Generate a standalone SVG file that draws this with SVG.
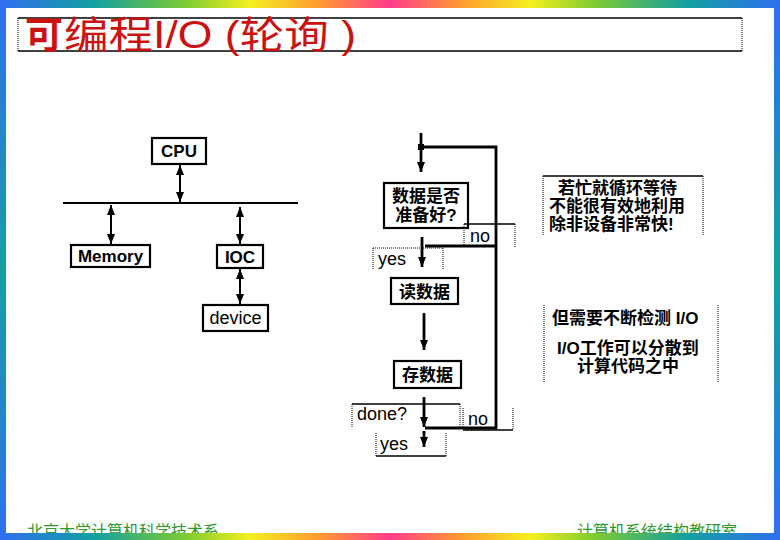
<svg xmlns="http://www.w3.org/2000/svg" width="780" height="540" viewBox="0 0 780 540">
<defs>
<linearGradient id="rbh" x1="0" y1="0" x2="1" y2="0">
<stop offset="0" stop-color="#2f6ff0"/><stop offset="0.12" stop-color="#14a0a0"/><stop offset="0.24" stop-color="#80cc30"/><stop offset="0.32" stop-color="#f4f020"/><stop offset="0.41" stop-color="#ff9a30"/><stop offset="0.5" stop-color="#ff3c8c"/><stop offset="0.59" stop-color="#ff9a30"/><stop offset="0.68" stop-color="#f4f020"/><stop offset="0.76" stop-color="#80cc30"/><stop offset="0.88" stop-color="#14a0a0"/><stop offset="1" stop-color="#2f6ff0"/>
</linearGradient>
<linearGradient id="rbv" x1="0" y1="0" x2="0" y2="1">
<stop offset="0" stop-color="#2f6ff0"/><stop offset="0.5" stop-color="#14a0a0"/><stop offset="1" stop-color="#2f6ff0"/>
</linearGradient>
<marker id="ah" viewBox="0 0 10 8" refX="10" refY="4" markerWidth="10" markerHeight="8" markerUnits="userSpaceOnUse" orient="auto-start-reverse">
<path d="M0,0 L10,4 L0,8 z" fill="#000"/>
</marker>
</defs>
<style>
.box{fill:#fff;stroke:#000;stroke-width:2.2}
.lbl{font-family:"Liberation Sans","Noto Sans CJK SC",sans-serif;font-size:17px;font-weight:bold;fill:#000}
.reg{font-family:"Liberation Sans","Noto Sans CJK SC",sans-serif;font-size:18px;fill:#000}
.cjk{font-family:"Liberation Sans","Noto Sans CJK SC",sans-serif;font-size:17px;font-weight:bold;fill:#000}
.ln{stroke:#000;stroke-width:2;fill:none}
.fl{stroke:#000;stroke-width:2.8;fill:none}
.dot{stroke:#000;stroke-width:1;stroke-dasharray:1 1;fill:none}
.sol{stroke:#000;stroke-width:1.5;fill:none}
.foot{font-family:"Liberation Sans","Noto Sans CJK SC",sans-serif;font-size:16px;fill:#2a9a2a}
</style>
<rect x="0" y="0" width="780" height="540" fill="#fff"/>

<g id="title">
<line class="sol" x1="18" y1="18" x2="742" y2="18"/>
<line class="sol" x1="18" y1="51" x2="742" y2="51"/>
<line class="dot" x1="18" y1="18" x2="18" y2="51"/>
<line class="dot" x1="742" y1="18" x2="742" y2="51"/>
<text x="25" y="48" font-family="Liberation Sans,Noto Sans CJK SC,sans-serif" font-size="38" font-weight="bold" fill="#cc1111">可</text>
<text x="64" y="48" font-family="Liberation Sans,Noto Sans CJK SC,sans-serif" font-size="38" fill="#cc1111" textLength="292" lengthAdjust="spacingAndGlyphs">编程I/O (轮询 )</text>
</g>

<g id="connectors">
<line class="ln" x1="63" y1="203" x2="298" y2="203"/>
<line class="ln" x1="180" y1="165" x2="180" y2="202" marker-start="url(#ah)" marker-end="url(#ah)"/>
<line class="ln" x1="111" y1="205" x2="111" y2="244" marker-start="url(#ah)" marker-end="url(#ah)"/>
<line class="ln" x1="240" y1="207" x2="240" y2="244" marker-start="url(#ah)" marker-end="url(#ah)"/>
<line class="ln" x1="240" y1="269" x2="240" y2="304" marker-start="url(#ah)" marker-end="url(#ah)"/>

<line class="fl" x1="421" y1="133" x2="421" y2="172" marker-end="url(#ah)"/>
<polyline class="fl" points="421,147 496,147 496,428 425,428"/>
<rect x="418" y="144" width="6" height="6" fill="#000"/>
<line class="fl" x1="425" y1="246" x2="496" y2="246"/>
<line class="fl" x1="422" y1="237" x2="422" y2="267" marker-end="url(#ah)"/>
<line class="fl" x1="424" y1="313" x2="424" y2="350" marker-end="url(#ah)"/>
<line class="fl" x1="424" y1="397" x2="424" y2="427" marker-end="url(#ah)"/>
<line class="fl" x1="424" y1="431" x2="424" y2="447" marker-end="url(#ah)"/>
</g>

<g id="cpu"><rect class="box" x="152" y="138" width="54" height="26"/><text class="lbl" x="179" y="157" text-anchor="middle">CPU</text></g>
<g id="memory"><rect class="box" x="71" y="245" width="79" height="22"/><text class="lbl" x="110.5" y="262" text-anchor="middle">Memory</text></g>
<g id="ioc"><rect class="box" x="217" y="245" width="46" height="23"/><text class="lbl" x="240" y="263" text-anchor="middle">IOC</text></g>
<g id="device"><rect class="box" x="203" y="305" width="65" height="26"/><text class="reg" x="235.5" y="324" text-anchor="middle" font-size="19">device</text></g>

<g id="decision"><rect class="box" x="384" y="183" width="84" height="45"/>
<text class="cjk" x="426" y="202" text-anchor="middle">数据是否</text>
<text class="cjk" x="426" y="221" text-anchor="middle">准备好?</text></g>

<g id="no1"><line class="sol" x1="464" y1="224" x2="515" y2="224"/><line class="dot" x1="464" y1="224" x2="464" y2="247"/><line class="dot" x1="515" y1="224" x2="515" y2="247"/><text class="reg" x="470" y="242">no</text></g>
<g id="yes1"><line class="dot" x1="373" y1="248" x2="443" y2="248"/><line class="dot" x1="373" y1="248" x2="373" y2="270"/><line class="dot" x1="443" y1="248" x2="443" y2="270"/><text class="reg" x="378" y="265">yes</text></g>

<g id="read"><rect class="box" x="391" y="278" width="67" height="26"/><text class="cjk" x="424.5" y="298" text-anchor="middle">读数据</text></g>
<g id="store"><rect class="box" x="394" y="361" width="67" height="27"/><text class="cjk" x="427.5" y="381" text-anchor="middle">存数据</text></g>

<g id="done"><line class="sol" x1="352" y1="404" x2="460" y2="404"/><line class="dot" x1="352" y1="404" x2="352" y2="427"/><line class="dot" x1="460" y1="404" x2="460" y2="427"/><text class="reg" x="357" y="420">done?</text></g>
<g id="no2"><line class="sol" x1="463" y1="430" x2="513" y2="430"/><line class="dot" x1="463" y1="408" x2="463" y2="430"/><line class="dot" x1="513" y1="408" x2="513" y2="430"/><text class="reg" x="468" y="425">no</text></g>
<g id="yes2"><line class="sol" x1="376" y1="456" x2="446" y2="456"/><line class="dot" x1="376" y1="433" x2="376" y2="456"/><line class="dot" x1="446" y1="433" x2="446" y2="456"/><text class="reg" x="380" y="450">yes</text></g>

<g id="note1"><line class="sol" x1="543" y1="176" x2="703" y2="176"/><line class="dot" x1="543" y1="176" x2="543" y2="235"/><line class="dot" x1="703" y1="176" x2="703" y2="235"/>
<text class="cjk" x="558" y="194">若忙就循环等待</text>
<text class="cjk" x="549" y="212">不能很有效地利用</text>
<text class="cjk" x="549" y="230">除非设备非常快!</text></g>

<g id="note2"><line class="dot" x1="544" y1="305" x2="544" y2="382"/><line class="dot" x1="718" y1="305" x2="718" y2="382"/>
<text class="cjk" x="552" y="324">但需要不断检测 I/O</text>
<text class="cjk" x="557" y="354">I/O工作可以分散到</text>
<text class="cjk" x="577" y="372">计算代码之中</text></g>

<g id="footer">
<text class="foot" x="27" y="537">北京大学计算机科学技术系</text>
<text class="foot" x="577" y="537">计算机系统结构教研室</text>
</g>

<g id="frame">
<rect x="0" y="0" width="780" height="8" fill="url(#rbh)"/>
<rect x="0" y="533" width="780" height="7" fill="url(#rbh)"/>
<rect x="0" y="0" width="6" height="540" fill="url(#rbv)"/>
<rect x="774" y="0" width="6" height="540" fill="url(#rbv)"/>
</g>
</svg>
